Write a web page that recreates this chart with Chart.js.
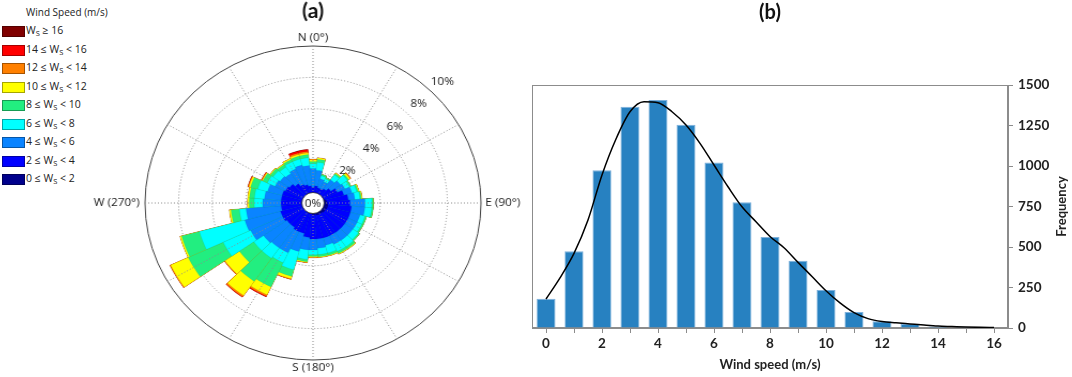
<!DOCTYPE html>
<html>
<head>
<meta charset="utf-8">
<script src="https://cdn.jsdelivr.net/npm/chart.js@4.4.1/dist/chart.umd.min.js"></script>
<style>
  html, body { margin: 0; padding: 0; background: #fff; }
  #page { position: relative; width: 1072px; height: 377px; overflow: hidden; }
  #roseCanvas { position: absolute; left: 80px; top: 0; transform: scaleX(1.07); transform-origin: 233px 203px; }
  #histCanvas { position: absolute; left: 500px; top: 0; }
  #roseLegend { position: absolute; left: 0; top: 0; width: 140px; height: 190px; font-family: 'Open Sans', sans-serif; color: #222; }
  .lg-title { position: absolute; left: 26px; top: 5px; font-size: 10px; line-height: 14px; white-space: nowrap; }
  .lg-row { position: absolute; left: 2px; height: 10px; white-space: nowrap; }
  .lg-sw { position: absolute; left: 0; top: 0; width: 21px; height: 9px; border: 0.5px solid rgba(0,0,0,0.35); }
  .lg-tx { position: absolute; left: 24px; top: -3px; font-size: 10.5px; line-height: 14px; }
  .lg-tx sub { font-size: 7.5px; vertical-align: -2px; line-height: 0; }
</style>
</head>
<body>
<div id="page">
  <div id="roseLegend"></div>
  <canvas id="roseCanvas" width="466" height="377"></canvas>
  <canvas id="histCanvas" width="572" height="377"></canvas>
</div>
<script>
// ---- wind rose (a): % of time per 10 degree sector, per speed class ----
const directions = [0, 10, 20, 30, 40, 50, 60, 70, 80, 90, 100, 110, 120, 130, 140, 150, 160, 170,
  180, 190, 200, 210, 220, 230, 240, 250, 260, 270, 280, 290, 300, 310, 320, 330, 340, 350];
const speedEdges = [0, 2, 4, 6, 8, 10, 12, 14, 16];
const speedColors = ['#00008c', '#0000ff', '#0a84ff', '#00ffff', '#22ee80', '#ffff00', '#ff8000', '#ff0000', '#800000'];

const ws0to2 = [0.55, 0.55, 0.5, 0.5, 0.55, 0.6, 0.65, 0.7, 0.8, 0.85, 0.9, 0.9, 0.85, 0.85, 0.8, 0.8, 0.8, 0.75,
  0.75, 0.7, 0.7, 0.65, 0.65, 0.6, 0.6, 0.6, 0.6, 0.6, 0.55, 0.55, 0.5, 0.5, 0.5, 0.5, 0.5, 0.5];
const ws2to4 = [0.45, 0.55, 0.5, 0.5, 0.55, 0.7, 0.95, 1.2, 1.3, 1.35, 1.4, 1.4, 1.45, 1.45, 1.5, 1.5, 1.5, 1.55,
  1.55, 1.5, 1.3, 1.35, 1.25, 1.3, 1.4, 1.4, 1.3, 1.3, 1.35, 1.35, 1.3, 1.2, 1.0, 0.8, 0.7, 0.6];
const ws4to6 = [1.2, 1.0, 0.6, 0.5, 0.7, 0.7, 0.5, 0.5, 0.4, 0.9, 0.8, 0.6, 0.6, 0.6, 0.6, 0.6, 0.5, 0.6,
  0.7, 0.8, 1.2, 1.5, 1.6, 1.7, 2.1, 2.2, 2.1, 1.1, 1.0, 0.9, 0.7, 0.7, 0.8, 1.1, 1.3, 1.3];
const ws6to8 = [0.3, 0.5, 0.2, 0.2, 0.4, 0.5, 0.3, 0.3, 0.3, 0.4, 0.4, 0.3, 0.3, 0.4, 0.5, 0.5, 0.5, 0.4,
  0.3, 0.6, 1.2, 0.7, 0.8, 0.7, 1.8, 2.8, 0.4, 0.5, 0.6, 0.6, 0.5, 0.5, 0.5, 0.5, 0.4, 0.5];
const ws8to10 = [0.15, 0.2, 0.1, 0.1, 0.1, 0.1, 0.1, 0.1, 0.1, 0.1, 0.1, 0.1, 0.1, 0.1, 0.15, 0.15, 0.15, 0.15,
  0.1, 0.15, 0.45, 1.7, 1.8, 1.05, 2.3, 1.1, 0.5, 0.3, 0.3, 0.45, 0.3, 0.2, 0.2, 0.15, 0.2, 0.2];
const ws10to12 = [0.1, 0.1, 0, 0, 0.05, 0.1, 0, 0.05, 0.05, 0, 0, 0, 0, 0, 0.05, 0.05, 0.05, 0.05,
  0.05, 0.05, 0.15, 0.55, 1.1, 1.05, 1.15, 0.1, 0.1, 0.1, 0.1, 0.1, 0.05, 0.05, 0.05, 0.1, 0.1, 0.1];
const ws12to14 = [0.05, 0, 0, 0, 0, 0.05, 0, 0, 0, 0, 0, 0, 0, 0, 0, 0, 0, 0,
  0.05, 0.02, 0.05, 0.1, 0.1, 0.05, 0.05, 0, 0, 0, 0, 0.05, 0.05, 0, 0, 0, 0.1, 0.1];
const ws14to16 = [0, 0, 0, 0, 0, 0, 0, 0, 0, 0, 0, 0, 0, 0, 0, 0, 0, 0,
  0, 0, 0, 0.05, 0.03, 0, 0, 0, 0, 0, 0, 0.02, 0.02, 0, 0, 0, 0.12, 0.12];
const ws16plus = [0, 0, 0, 0, 0, 0, 0, 0, 0, 0, 0, 0, 0, 0, 0, 0, 0, 0,
  0, 0, 0, 0, 0, 0, 0, 0, 0, 0, 0, 0, 0, 0, 0, 0, 0.02, 0.02];

const radialTicks = [2, 4, 6, 8, 10];
const radialMax = 10;
const spokeBearings = [0, 30, 60, 90, 120, 150, 180, 210, 240, 270, 300, 330];
const compassLabels = ['N (0°)', 'E (90°)', 'S (180°)', 'W (270°)'];

// ---- histogram (b) ----
const speedClasses = [0, 1, 2, 3, 4, 5, 6, 7, 8, 9, 10, 11, 12, 13, 14, 15, 16];
const frequency = [180, 473, 973, 1365, 1407, 1254, 1021, 777, 562, 415, 234, 99, 41, 25, 10, 5, 3];
const fitSpeed = [0, 0.5, 1, 1.5, 2, 2.5, 3, 3.5, 4, 4.5, 5, 5.5, 6, 6.5, 7, 7.5, 8, 8.5,
  9, 9.5, 10, 10.5, 11, 11.5, 12, 12.5, 13, 13.5, 14, 14.5, 15, 15.5, 16];
const fitFrequency = [179, 310, 461, 667, 945, 1167, 1335, 1397, 1391, 1335, 1253, 1140, 1006, 872, 748, 656, 565, 495,
  405, 318, 230, 155, 95, 58, 40, 32, 25, 18, 12, 9, 6, 4, 3];
const freqAxisTitle = 'Frequency';

Chart.defaults.font.family = 'Lato';
Chart.defaults.color = '#222';

// legend for the rose, highest class on top
const speedBins = [ws0to2, ws2to4, ws4to6, ws6to8, ws8to10, ws10to12, ws12to14, ws14to16, ws16plus];
const legendEl = document.getElementById('roseLegend');
let legendHtml = '<div class="lg-title">Wind Speed (m/s)</div>';
for (let k = speedBins.length - 1, row = 0; k >= 0; k--, row++) {
  const lo = speedEdges[k];
  const text = k === speedEdges.length - 1
    ? 'W<sub>S</sub> ≥ ' + lo
    : lo + ' ≤ W<sub>S</sub> &lt; ' + speedEdges[k + 1];
  legendHtml += '<div class="lg-row" style="top:' + (26 + row * 18.5) + 'px">' +
    '<span class="lg-sw" style="background:' + speedColors[k] + '"></span>' +
    '<span class="lg-tx">' + text + '</span></div>';
}
legendEl.innerHTML = legendHtml;

// stacked rose: each dataset is the running total, inner classes drawn on top
const cumulative = [];
let running = directions.map(() => 0);
speedBins.forEach(bin => {
  running = running.map((v, i) => v + bin[i]);
  cumulative.push(running);
});

const roseDecor = {
  id: 'roseDecor',
  afterDraw(chart) {
    const r = chart.scales.r;
    const ctx = chart.ctx;
    const cx = r.xCenter, cy = r.yCenter;
    const outer = r.getDistanceFromCenterForValue(radialMax);
    ctx.save();
    ctx.strokeStyle = '#8c8c8c';
    ctx.lineWidth = 1;
    ctx.setLineDash([1, 2]);
    spokeBearings.forEach(b => {
      const t = b * Math.PI / 180;
      ctx.beginPath();
      ctx.moveTo(cx, cy);
      ctx.lineTo(cx + outer * Math.sin(t), cy - outer * Math.cos(t));
      ctx.stroke();
    });
    ctx.setLineDash([]);

    // white hole with 0%
    ctx.beginPath();
    ctx.arc(cx, cy, 10.5, 0, Math.PI * 2);
    ctx.fillStyle = '#fff';
    ctx.fill();
    ctx.strokeStyle = '#222';
    ctx.lineWidth = 0.8;
    ctx.stroke();

    ctx.fillStyle = '#222';
    ctx.font = '11px "Open Sans"';
    ctx.textAlign = 'center';
    ctx.textBaseline = 'middle';
    ctx.fillText('0%', cx, cy + 1);

    radialTicks.forEach(v => {
      const d = r.getDistanceFromCenterForValue(v) + 14;
      ctx.fillText(v + '%', cx + d * Math.SQRT1_2, cy - d * Math.SQRT1_2);
    });

    ctx.textBaseline = 'bottom';
    ctx.fillText(compassLabels[0], cx, cy - outer - 3);
    ctx.textBaseline = 'top';
    ctx.fillText(compassLabels[2], cx, cy + outer + 2);
    ctx.textBaseline = 'middle';
    ctx.textAlign = 'left';
    ctx.fillText(compassLabels[1], cx + outer + 4, cy);
    ctx.textAlign = 'right';
    ctx.fillText(compassLabels[3], cx - outer - 5, cy);
    ctx.restore();
  }
};

new Chart(document.getElementById('roseCanvas'), {
  type: 'polarArea',
  data: {
    labels: directions,
    datasets: cumulative.map((vals, k) => ({
      data: vals,
      backgroundColor: speedColors[k],
      borderColor: 'rgba(0,0,0,0.12)',
      borderWidth: 0.5
    }))
  },
  options: {
    responsive: false,
    animation: false,
    layout: { padding: { top: 0, bottom: 17, left: 70, right: 70 } },
    plugins: {
      legend: { display: false },
      tooltip: { enabled: false },
      title: {
        display: true,
        text: '(a)',
        color: '#111',
        font: { size: 20, weight: 'bold' },
        padding: { top: 0, bottom: 22 }
      }
    },
    scales: {
      r: {
        min: 0,
        max: radialMax,
        startAngle: -5,
        z: 1,
        ticks: { display: false, stepSize: 2 },
        angleLines: { display: false },
        pointLabels: { display: false },
        grid: {
          circular: true,
          lineWidth: 1,
          color: c => (c.tick && c.tick.value === radialMax) ? '#444' : '#8c8c8c'
        },
        border: {
          dash: c => (c.tick && c.tick.value === radialMax) ? [] : [1, 2]
        }
      }
    }
  },
  plugins: [roseDecor]
});

const histFrame = {
  id: 'histFrame',
  beforeDatasetsDraw(chart) {
    const { ctx, chartArea: a } = chart;
    ctx.save();
    ctx.strokeStyle = '#8c8c8c';
    ctx.lineWidth = 1;
    ctx.strokeRect(a.left + 0.5, a.top + 0.5, a.width - 1, a.height - 1);
    ctx.restore();
  },
  afterDraw(chart) {
    const y = chart.scales.y;
    const ctx = chart.ctx;
    ctx.save();
    ctx.translate(chart.width - 10, (y.top + y.bottom) / 2);
    ctx.rotate(-Math.PI / 2);
    ctx.font = 'bold 13px Lato';
    ctx.fillStyle = '#222';
    ctx.textAlign = 'center';
    ctx.textBaseline = 'middle';
    ctx.fillText(freqAxisTitle, 0, 0);
    ctx.restore();
  }
};

new Chart(document.getElementById('histCanvas'), {
  data: {
    labels: speedClasses,
    datasets: [
      {
        type: 'line',
        data: fitSpeed.map((x, i) => ({ x: x, y: fitFrequency[i] })),
        xAxisID: 'xFit',
        borderColor: '#000',
        borderWidth: 1.5,
        pointRadius: 0,
        cubicInterpolationMode: 'monotone',
        order: 0
      },
      {
        type: 'bar',
        data: frequency,
        xAxisID: 'x',
        backgroundColor: '#2781c1',
        borderColor: '#7fb1dc',
        borderWidth: 1,
        grouped: false,
        barPercentage: 0.68,
        categoryPercentage: 1,
        order: 1
      }
    ]
  },
  options: {
    responsive: false,
    animation: false,
    layout: { padding: { top: 0, bottom: 0, left: 32, right: 14 } },
    plugins: {
      legend: { display: false },
      tooltip: { enabled: false },
      title: {
        display: true,
        text: '(b)',
        fullSize: false,
        color: '#111',
        font: { size: 20, weight: 'bold' },
        padding: { top: 1, bottom: 60 }
      }
    },
    scales: {
      x: {
        type: 'category',
        offset: true,
        grid: { drawOnChartArea: false, offset: false, tickLength: 5, color: '#8c8c8c' },
        border: { color: '#8c8c8c' },
        ticks: {
          autoSkip: false,
          maxRotation: 0,
          padding: 3,
          color: '#222',
          font: { size: 13.5, weight: 'bold' },
          callback: (v, i) => (speedClasses[i] % 2 === 0 ? speedClasses[i] : '')
        },
        title: {
          display: true,
          text: 'Wind speed (m/s)',
          color: '#222',
          font: { size: 13, weight: 'bold' },
          padding: { top: 0, bottom: 4 }
        },
        afterFit: s => { s.height = 49; }
      },
      xFit: { type: 'linear', display: false, min: -0.5, max: 16.5 },
      y: {
        position: 'right',
        min: 0,
        max: 1500,
        grid: { drawOnChartArea: false, tickLength: 5, color: '#8c8c8c' },
        border: { color: '#8c8c8c' },
        ticks: {
          stepSize: 250,
          padding: 5,
          color: '#222',
          font: { size: 13.5, weight: 'bold' },
          callback: v => String(v)
        },
        afterFit: s => { s.width = 50; }
      }
    }
  },
  plugins: [histFrame]
});
</script>
</body>
</html>
